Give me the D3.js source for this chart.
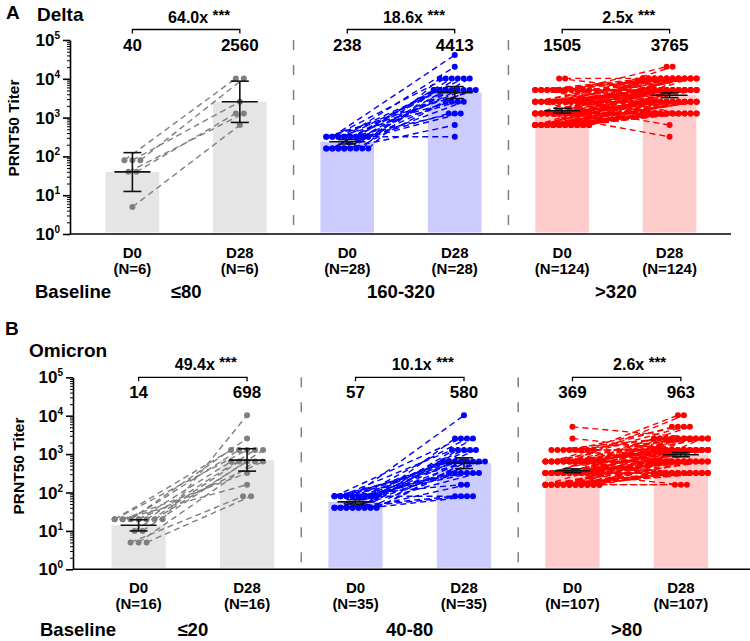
<!DOCTYPE html>
<html><head><meta charset="utf-8">
<script src="https://cdn.jsdelivr.net/npm/d3@7"></script>
<style>
body{margin:0;background:#fff}
text{font-family:"Liberation Sans",Arial,sans-serif;font-weight:bold;fill:#000}
</style>
</head><body>
<svg id="c" width="750" height="641"></svg>
<script>
// ---------------- data ----------------
const timepoints = ["D0", "D28"];
const deltaGroups = ["≤80", "160-320", ">320"];
const omiGroups = ["≤20", "40-80", ">80"];
const deltaN = [6, 28, 124];
const omiN = [16, 35, 107];
const deltaGM = [[40, 2560], [238, 4413], [1505, 3765]];
const omiGM = [[14, 698], [57, 580], [369, 963]];
const deltaCI = [[[12.5, 125], [750, 8700]], [[209, 271], [3100, 6300]], [[1305, 1735], [3270, 4330]]];
const omiCI = [[[10, 19.5], [360, 1380]], [[50, 65], [420, 800]], [[330, 412], [850, 1090]]];
const deltaFold = ["64.0x", "18.6x", "2.5x"];
const omiFold = ["49.4x", "10.1x", "2.6x"];
const yTickLabels = ["10", "10", "10", "10", "10", "10"];
const yTickExp = ["0", "1", "2", "3", "4", "5"];
// paired titers [D0, D28, number of subjects]
const deltaLowPairs = [[5, 640, 1], [40, 1280, 2], [80, 2560, 1], [80, 10240, 2]];
const deltaMidPairs = [[320, 40960, 1], [320, 20480, 1], [320, 10240, 4], [320, 5120, 6], [320, 2560, 2], [320, 1280, 1], [320, 320, 1],
  [160, 10240, 2], [160, 5120, 5], [160, 2560, 2], [160, 1280, 2], [160, 640, 1]];
const deltaHighPairs = [[640, 1280, 14], [640, 2560, 14], [640, 5120, 8], [640, 10240, 4],
  [1280, 320, 1], [1280, 1280, 7], [1280, 2560, 10], [1280, 5120, 10], [1280, 10240, 7],
  [2560, 640, 1], [2560, 1280, 3], [2560, 2560, 6], [2560, 5120, 10], [2560, 10240, 10], [2560, 20480, 1],
  [5120, 1280, 1], [5120, 2560, 2], [5120, 5120, 5], [5120, 10240, 7], [5120, 20480, 1],
  [10240, 5120, 1], [10240, 10240, 1]];
const omiLowPairs = [[20, 10240, 1], [20, 2560, 1], [20, 1280, 4], [20, 640, 3], [20, 320, 1], [20, 160, 1],
  [10, 1280, 1], [10, 640, 1], [5, 640, 1], [5, 80, 2]];
const omiMidPairs = [[80, 10240, 1], [80, 2560, 3], [80, 1280, 3], [80, 640, 6], [80, 320, 3], [80, 160, 1], [80, 80, 1],
  [40, 2560, 1], [40, 1280, 2], [40, 640, 7], [40, 320, 3], [40, 160, 1], [40, 80, 3]];
const omiHighPairs = [[5120, 2560, 1], [2560, 1280, 1],
  [1280, 10240, 1], [1280, 5120, 1], [1280, 2560, 3], [1280, 1280, 2], [1280, 640, 1],
  [640, 10240, 1], [640, 5120, 2], [640, 2560, 8], [640, 1280, 10], [640, 640, 6], [640, 320, 3],
  [320, 5120, 1], [320, 2560, 6], [320, 1280, 12], [320, 640, 10], [320, 320, 6], [320, 160, 1],
  [160, 2560, 2], [160, 1280, 5], [160, 640, 10], [160, 320, 12], [160, 160, 2]];

// ---------------- styles ----------------
const dotColors = ["#7f7f7f", "#0000ff", "#ff0000"];
const barColors = ["#e5e5e5", "#ccccff", "#ffcccc"];
const dotSpacing = [8, 6, 6];
const maxSlots = [7, 8, 10];

const svg = d3.select("#c");

function drawPanel(cfg) {
  const g = svg.append("g");
  const keys = [];
  cfg.groups.forEach((_, i) => timepoints.forEach(t => keys.push(i + "-" + t)));
  const x = d3.scaleBand().domain(keys).range(cfg.xr).paddingInner(0.5).paddingOuter(0.5);
  const y = d3.scaleLog().domain([1, 1e5]).range([cfg.bottom, cfg.top]);
  const cx = k => x(k) + x.bandwidth() / 2;

  // titles
  g.append("text").attr("x", cfg.letterX).attr("y", cfg.letterY).style("font-size", "19px").text(cfg.letter);
  g.append("text").attr("x", cfg.titleX).attr("y", cfg.titleY).style("font-size", "19px").text(cfg.title);

  // dividers
  for (let i = 0; i < cfg.groups.length - 1; i++) {
    const xm = (cx(i + "-D28") + cx((i + 1) + "-D0")) / 2;
    g.append("line").attr("x1", xm).attr("x2", xm).attr("y1", cfg.top).attr("y2", cfg.bottom - 1)
      .attr("stroke", "#808080").attr("stroke-width", 1.5).attr("stroke-dasharray", "10,15");
  }

  // bars
  cfg.groups.forEach((_, gi) => {
    timepoints.forEach((t, ti) => {
      const v = cfg.gm[gi][ti];
      g.append("rect").attr("x", x(gi + "-" + t)).attr("width", x.bandwidth())
        .attr("y", y(v)).attr("height", y(1) - 1.5 - y(v)).attr("fill", barColors[gi]);
    });
  });

  // subjects
  cfg.groups.forEach((_, gi) => {
    const subj = [];
    cfg.pairs[gi].forEach(p => { for (let c = 0; c < p[2]; c++) subj.push({ d0: p[0], d28: p[1], idx: subj.length }); });
    function layout(field, pos, center, mult) {
      const levels = d3.group(subj, s => s[field]);
      levels.forEach(items => {
        items.sort((a, b) => (((a.idx + 1) * mult) % 1) - (((b.idx + 1) * mult) % 1));
        const n = items.length;
        const slots = Math.min(n, maxSlots[gi]);
        const sp = dotSpacing[gi];
        items.forEach((it, j) => { it[pos] = center + ((j % slots) - (slots - 1) / 2) * sp; });
      });
    }
    layout("d0", "x0", cx(gi + "-D0"), 0.6180339887);
    layout("d28", "x1", cx(gi + "-D28"), 0.4142135624);
    const col = dotColors[gi];
    g.append("g").selectAll("line").data(subj).join("line")
      .attr("x1", d => d.x0).attr("y1", d => y(d.d0)).attr("x2", d => d.x1).attr("y2", d => y(d.d28))
      .attr("stroke", col).attr("stroke-width", 1.4).attr("stroke-dasharray", "6,4");
    const dots = [];
    subj.forEach(s => { dots.push([s.x0, s.d0]); dots.push([s.x1, s.d28]); });
    g.append("g").selectAll("circle").data(dots).join("circle")
      .attr("cx", d => d[0]).attr("cy", d => y(d[1])).attr("r", 3).attr("fill", col);
  });

  // error bars
  cfg.groups.forEach((_, gi) => {
    timepoints.forEach((t, ti) => {
      const c = cx(gi + "-" + t), lo = cfg.ci[gi][ti][0], hi = cfg.ci[gi][ti][1], m = cfg.gm[gi][ti];
      const eg = g.append("g").attr("stroke", "#111").attr("stroke-width", 1.6);
      eg.append("line").attr("x1", c).attr("x2", c).attr("y1", y(lo)).attr("y2", y(hi));
      eg.append("line").attr("x1", c - 9).attr("x2", c + 9).attr("y1", y(lo)).attr("y2", y(lo));
      eg.append("line").attr("x1", c - 9).attr("x2", c + 9).attr("y1", y(hi)).attr("y2", y(hi));
      eg.append("line").attr("x1", c - 18).attr("x2", c + 18).attr("y1", y(m)).attr("y2", y(m));
    });
  });

  // y axis
  const minor = [];
  for (let e = 0; e < 5; e++) for (let k = 2; k <= 9; k++) minor.push(k * Math.pow(10, e));
  const majors = d3.range(0, 6).map(e => Math.pow(10, e));
  g.append("g").attr("transform", `translate(${cfg.axisX},0)`)
    .call(d3.axisLeft(y).tickValues(minor).tickSize(3).tickFormat(""))
    .call(s => s.select(".domain").remove())
    .selectAll("line").attr("stroke-width", 1);
  const ya = g.append("g").attr("transform", `translate(${cfg.axisX},0)`)
    .call(d3.axisLeft(y).tickValues(majors).tickSize(7).tickFormat("").tickSizeOuter(0));
  ya.select(".domain").attr("stroke-width", 1.6);
  ya.selectAll("line").attr("stroke-width", 1.6);
  majors.forEach((v, i) => {
    const t = g.append("text").attr("x", cfg.axisX - 10).attr("y", y(v) + 6).attr("text-anchor", "end").style("font-size", "17px");
    t.append("tspan").text(yTickLabels[i]);
    t.append("tspan").attr("dy", -7).style("font-size", "10px").text(yTickExp[i]);
  });
  g.append("text").attr("transform", `translate(${cfg.ylabX},${cfg.ylabY}) rotate(-90)`)
    .attr("text-anchor", "middle").style("font-size", "15.5px").text("PRNT50 Titer");

  // x axis line
  g.append("line").attr("x1", cfg.axisX).attr("x2", cfg.axisEnd).attr("y1", cfg.bottom).attr("y2", cfg.bottom)
    .attr("stroke", "#000").attr("stroke-width", 1.6);

  // x labels
  cfg.groups.forEach((_, gi) => {
    timepoints.forEach((t) => {
      const c = cx(gi + "-" + t);
      g.append("text").attr("x", c).attr("y", cfg.bottom + 24).attr("text-anchor", "middle").style("font-size", "15px").text(t);
      g.append("text").attr("x", c).attr("y", cfg.bottom + 40).attr("text-anchor", "middle").style("font-size", "15px").text(`(N=${cfg.n[gi]})`);
    });
  });

  // baseline row
  g.append("text").attr("x", cfg.baseX).attr("y", cfg.baseY).style("font-size", "18.5px").text("Baseline");
  cfg.groups.forEach((name, gi) => {
    const c = (cx(gi + "-D0") + cx(gi + "-D28")) / 2;
    g.append("text").attr("x", c).attr("y", cfg.baseY).attr("text-anchor", "middle").style("font-size", "18.5px").text(name);
  });

  // brackets, fold changes and GM values
  cfg.groups.forEach((_, gi) => {
    const a = cx(gi + "-D0"), b = cx(gi + "-D28");
    g.append("path").attr("d", `M${a},${cfg.brY + 4}V${cfg.brY}H${b}V${cfg.brY + 4}`)
      .attr("fill", "none").attr("stroke", "#000").attr("stroke-width", 1.3);
    const ft = g.append("text").attr("y", cfg.brY - 7).style("font-size", "16px");
    ft.append("tspan").text(cfg.fold[gi] + " ");
    const w = ft.select("tspan").node().getComputedTextLength();
    ft.append("tspan").attr("dy", -3).style("font-size", "15px").text("***");
    ft.attr("x", (a + b) / 2 - (w - 4) / 2);
    timepoints.forEach((t, ti) => {
      g.append("text").attr("x", cx(gi + "-" + t)).attr("y", cfg.brY + 21).attr("text-anchor", "middle")
        .style("font-size", "17px").text(cfg.gm[gi][ti]);
    });
  });
}

drawPanel({
  letter: "A", letterX: 6, letterY: 19, title: "Delta", titleX: 37, titleY: 21,
  groups: deltaGroups, n: deltaN, gm: deltaGM, ci: deltaCI, fold: deltaFold,
  pairs: [deltaLowPairs, deltaMidPairs, deltaHighPairs],
  top: 40, bottom: 234, axisX: 70, axisEnd: 731, xr: [51.8, 750.2],
  ylabX: 19, ylabY: 128, brY: 29.5, baseX: 35, baseY: 298
});
drawPanel({
  letter: "B", letterX: 5, letterY: 335, title: "Omicron", titleX: 29, titleY: 357,
  groups: omiGroups, n: omiN, gm: omiGM, ci: omiCI, fold: omiFold,
  pairs: [omiLowPairs, omiMidPairs, omiHighPairs],
  top: 377.3, bottom: 569.3, axisX: 73, axisEnd: 750, xr: [57.25, 762.25],
  ylabX: 24, ylabY: 466, brY: 377.3, baseX: 40, baseY: 636
});
</script>
</body></html>
